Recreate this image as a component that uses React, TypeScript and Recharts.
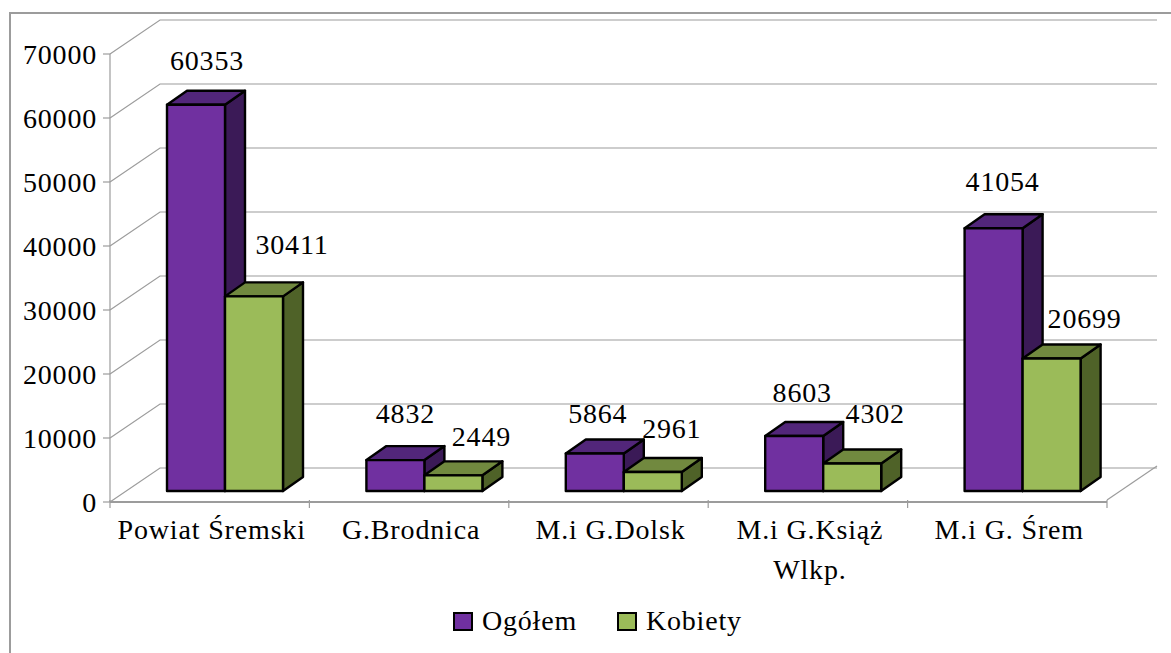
import React from 'react';
import { BarChart, Bar, XAxis, YAxis, CartesianGrid, Legend, LabelList } from 'recharts';

const categories = ['Powiat Śremski', 'G.Brodnica', 'M.i G.Dolsk', 'M.i G.Książ\nWlkp.', 'M.i G. Śrem'];
const ogolem = [60353, 4832, 5864, 8603, 41054];
const kobiety = [30411, 2449, 2961, 4302, 20699];
const yTicks = [0, 10000, 20000, 30000, 40000, 50000, 60000, 70000];

const data = categories.map((name, i) => ({ name, ogolem: ogolem[i], kobiety: kobiety[i] }));

const FONT = '"Liberation Serif", serif';
const GRID = '#9c9c9c';
const FONT_SIZE = 28;

// depth of the fake 3D box and of the floor
const WALL_DX = 50;
const WALL_DY = 34;
const BAR_DX = 15;
const BAR_DY = 11;
const BOX_DX = 20;
const BOX_DY = 14;
const BAND = 199.4;

// hand placed data labels, relative to the bar top
const ogolemNudge = [[11, -44], [10, -47], [3, -40], [8, -43], [9, -47]];
const kobietyNudge = [[38, -52], [28, -39], [19, -44], [23, -50], [33, -40]];

const box = (front: string, top: string, side: string) => (props: any) => {
    const x = props.x + BAR_DX;
    const y = props.y - BAR_DY;
    const w = props.width;
    const h = props.height;
    const line = { stroke: '#000', strokeWidth: 2.4, strokeLinejoin: 'round' as const };
    return (
        <g>
            <path d={`M${x + w} ${y}L${x + w + BOX_DX} ${y - BOX_DY}V${y + h - BOX_DY}L${x + w} ${y + h}Z`} fill={side} {...line} />
            <path d={`M${x} ${y}L${x + BOX_DX} ${y - BOX_DY}H${x + w + BOX_DX}L${x + w} ${y}Z`} fill={top} {...line} />
            <rect x={x} y={y} width={w} height={h} fill={front} {...line} />
        </g>
    );
};

const label = (nudge: number[][]) => (props: any) => {
    const [dx, dy] = nudge[props.index];
    return (
        <text
            x={props.x + props.width / 2 + BAR_DX + dx}
            y={props.y - BAR_DY + dy}
            textAnchor="middle"
            dominantBaseline="central"
            fontFamily={FONT}
            fontSize={FONT_SIZE}
            letterSpacing={0.8}
            fill="#000"
        >
            {props.value}
        </text>
    );
};

const gridLine = (props: any) => {
    const { x1, x2, y1 } = props;
    return (
        <path
            key={props.key ?? y1}
            d={`M${x1} ${y1}L${x1 + WALL_DX} ${y1 - WALL_DY}H${x2 + WALL_DX}`}
            fill="none"
            stroke={GRID}
            strokeWidth={1.2}
        />
    );
};

const CategoryTick = (props: any) => {
    const { x, y, payload, index } = props;
    const lines = String(payload.value).split('\n');
    const left = x - BAND / 2;
    return (
        <g>
            <line x1={left} x2={left} y1={y - 10} y2={y - 2} stroke={GRID} strokeWidth={1.2} />
            {index === categories.length - 1 && (
                <>
                    <line x1={x + BAND / 2} x2={x + BAND / 2} y1={y - 10} y2={y - 2} stroke={GRID} strokeWidth={1.2} />
                    <path d={`M${x + BAND / 2} ${y - 10}l${WALL_DX} ${-WALL_DY}`} stroke={GRID} strokeWidth={1.2} fill="none" />
                </>
            )}
            <text textAnchor="middle" fontFamily={FONT} fontSize={FONT_SIZE} letterSpacing={0.85} fill="#000">
                {lines.map((t, i) => (
                    <tspan key={i} x={x + 2} y={y + 29 + i * 40}>{t}</tspan>
                ))}
            </text>
        </g>
    );
};

const LegendBox = () => {
    const items = [
        { name: 'Ogółem', color: '#7030A0', width: 164 },
        { name: 'Kobiety', color: '#9BBB59', width: 130 },
    ];
    return (
        <div style={{ display: 'flex', fontFamily: FONT, fontSize: FONT_SIZE, letterSpacing: 0.8, color: '#000', lineHeight: '36px' }}>
            {items.map((it) => (
                <div key={it.name} style={{ display: 'flex', alignItems: 'center', width: it.width }}>
                    <span style={{ width: 16, height: 15, border: '2px solid #000', background: it.color, marginRight: 9, flex: 'none' }} />
                    {it.name}
                </div>
            ))}
        </div>
    );
};

export default function App() {
    return (
        <div style={{ position: 'absolute', left: 0, top: 0, width: 1171, height: 653, background: '#fff', overflow: 'hidden' }}>
            <div style={{ position: 'absolute', left: 9, top: 12, width: 1162, height: 641, borderLeft: `2px solid ${GRID}`, borderTop: `2px solid ${GRID}`, boxSizing: 'border-box' }} />
            <BarChart
                width={1171}
                height={653}
                data={data}
                margin={{ top: 54, right: 64, left: 0, bottom: 0 }}
                barCategoryGap={42}
                barGap={0}
                style={{ position: 'absolute', left: 0, top: 0 }}
            >
                <CartesianGrid horizontal={gridLine} vertical={false} />
                <XAxis
                    dataKey="name"
                    height={151}
                    interval={0}
                    tickLine={false}
                    axisLine={{ stroke: GRID, strokeWidth: 2 }}
                    tick={<CategoryTick />}
                />
                <YAxis
                    width={110}
                    domain={[0, 70000]}
                    ticks={yTicks}
                    interval={0}
                    tickSize={7}
                    tickMargin={6}
                    tickLine={{ stroke: GRID, strokeWidth: 1.2 }}
                    axisLine={{ stroke: GRID, strokeWidth: 1.2 }}
                    tick={{ fill: '#000', fontFamily: FONT, fontSize: FONT_SIZE, letterSpacing: 0.8 }}
                />
                <Legend verticalAlign="middle" content={<LegendBox />} wrapperStyle={{ left: 453, top: 603, width: 320, bottom: 'auto' }} />
                <Bar dataKey="ogolem" name="Ogółem" fill="#7030A0" shape={box('#7030A0', '#52267A', '#3B1A57')} isAnimationActive={false}>
                    <LabelList dataKey="ogolem" content={label(ogolemNudge)} />
                </Bar>
                <Bar dataKey="kobiety" name="Kobiety" fill="#9BBB59" shape={box('#9BBB59', '#71893F', '#4F6228')} isAnimationActive={false}>
                    <LabelList dataKey="kobiety" content={label(kobietyNudge)} />
                </Bar>
            </BarChart>
        </div>
    );
}
